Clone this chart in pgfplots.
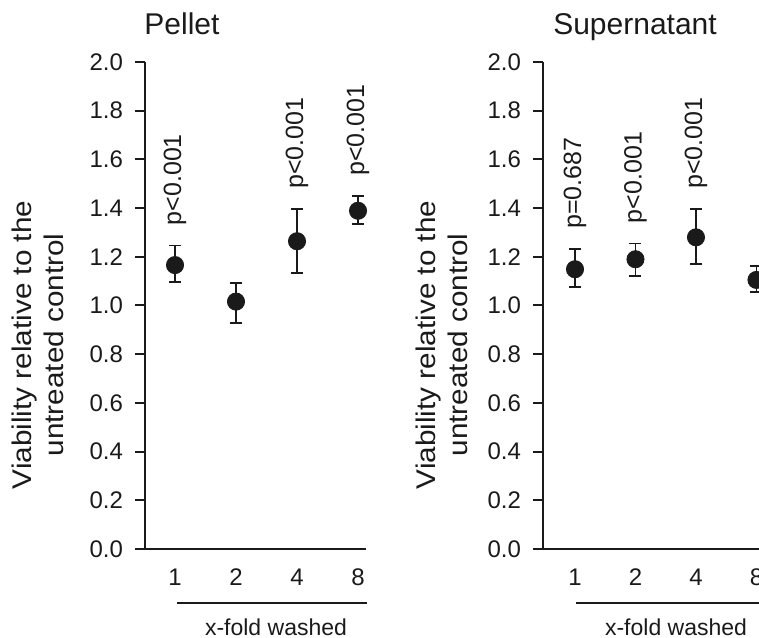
\documentclass[border=0pt]{standalone}
\usepackage{fontspec}
\setmainfont{Liberation Sans}
\usepackage{pgfplots}
\pgfplotsset{compat=1.18}
\usepackage{pgfplotstable}

% viability relative to untreated control, mean with error bars
\pgfplotstableread{
x y ep em
1 1.166 0.080 0.071
2 1.016 0.078 0.088
3 1.264 0.132 0.131
4 1.389 0.061 0.054
}\pellet
\pgfplotstableread{
x y ep em
1 1.149 0.082 0.072
2 1.190 0.065 0.068
3 1.280 0.116 0.111
4 1.105 0.058 0.051
}\supern

\definecolor{ink}{HTML}{1A1A1A}

\pgfplotsset{
  panel/.style={
    scale only axis, height=243.5pt,
    ymin=0, ymax=2,
    axis x line=bottom, axis y line=left,
    axis line style={ink, line width=1pt, -},
    ytick={0,0.2,0.4,0.6,0.8,1.0,1.2,1.4,1.6,1.8,2.0},
    yticklabel style={/pgf/number format/fixed, /pgf/number format/fixed zerofill,
      /pgf/number format/precision=1, xshift=-2.5pt},
    tick align=outside, major tick length=5pt,
    tick style={ink, line width=1pt},
    xtick={1,2,3,4}, xticklabels={1,2,4,8},
    x tick style={draw=none},
    xticklabel style={yshift=-1.5pt},
    ticklabel style={font=\fontsize{12}{14}\selectfont, text=ink},
    /pgf/number format/assume math mode=true,
    clip=false,
  },
  dots/.style={
    only marks, mark=*, mark size=4.3pt, ink,
    mark options={fill=ink, draw=ink},
    error bars/.cd, y dir=both, y explicit,
    error bar style={line width=0.9pt, ink},
    error mark options={rotate=90, line width=0.9pt, mark size=3pt, ink},
  },
}
\tikzset{
  plab/.style={rotate=90, anchor=west, inner sep=0pt, text=ink,
    font=\fontsize{12.5}{14}\selectfont},
  ylab/.style={rotate=90, xscale=1.1, align=center, text=ink,
    font=\fontsize{13.5}{16}\selectfont},
}

\begin{document}
\begin{tikzpicture}
\path[use as bounding box] (0,0) rectangle (379.5pt,318.5pt);
\clip (0,0) rectangle (379.5pt,318.5pt);

% Pellet
\begin{axis}[panel, at={(72.5pt,44pt)}, anchor=south west,
    width=110.5pt, xmin=0.508, xmax=4.131]
  \addplot[dots] table[x=x, y=y, y error plus=ep, y error minus=em] {\pellet};
  \node[plab] at ([yshift=10pt]axis cs:1,1.246) {p<0.001};
  \node[plab] at ([yshift=10pt]axis cs:3,1.396) {p<0.001};
  \node[plab] at ([yshift=10pt]axis cs:4,1.450) {p<0.001};
\end{axis}

% Supernatant
\begin{axis}[panel, at={(271.5pt,44pt)}, anchor=south west,
    width=128.5pt, xmin=0.471, xmax=4.72]
  \addplot[dots] table[x=x, y=y, y error plus=ep, y error minus=em] {\supern};
  \node[plab] at ([yshift=10pt]axis cs:1,1.231) {p=0.687};
  \node[plab] at ([yshift=10pt]axis cs:2,1.255) {p<0.001};
  \node[plab] at ([yshift=10pt]axis cs:3,1.396) {p<0.001};
\end{axis}

% titles
\node[anchor=base, text=ink, font=\fontsize{15}{17}\selectfont] at (91pt,301pt) {Pellet};
\node[anchor=base, text=ink, font=\fontsize{15}{17}\selectfont] at (317.5pt,301pt) {Supernatant};

% y labels
\node[ylab] at (18.75pt,146pt) {Viability relative to the\\untreated control};
\node[ylab] at (221pt,146pt) {Viability relative to the\\untreated control};

% x group lines and label
\draw[ink, line width=1pt] (88.5pt,17pt) -- (183.5pt,17pt);
\draw[ink, line width=1pt] (288pt,17pt) -- (400pt,17pt);
\node[anchor=base, text=ink, font=\fontsize{11.5}{13}\selectfont] at (138pt,1pt) {x-fold washed};
\node[anchor=base, text=ink, font=\fontsize{11.5}{13}\selectfont] at (338pt,1pt) {x-fold washed};
\end{tikzpicture}
\end{document}
